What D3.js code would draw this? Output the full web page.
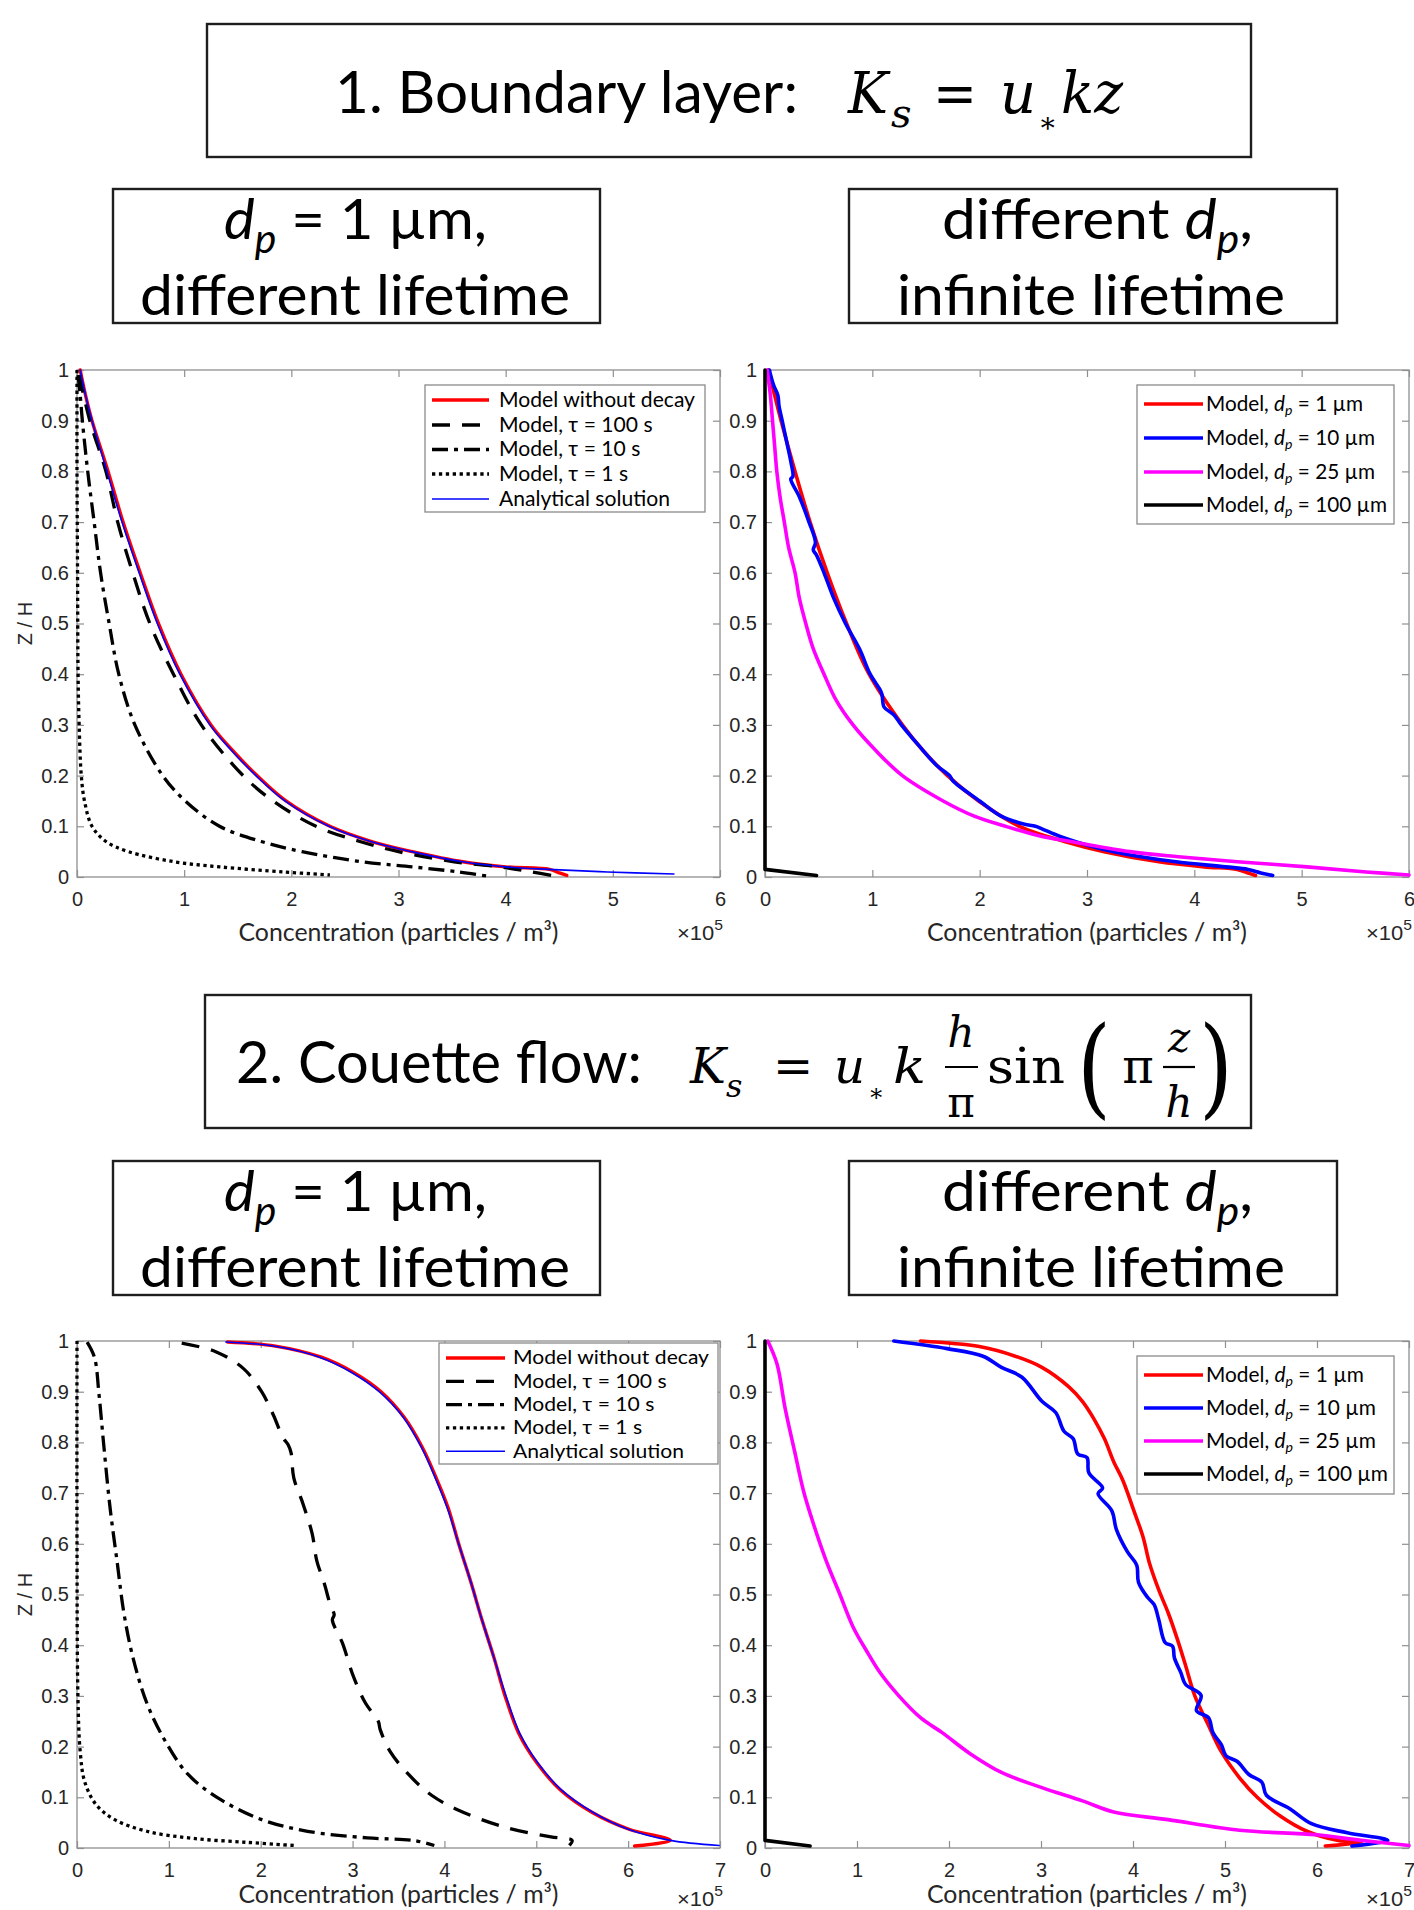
<!DOCTYPE html>
<html><head><meta charset="utf-8">
<script src="https://cdn.jsdelivr.net/npm/d3@7"></script>
<style>body{margin:0;background:#fff}svg{display:block}</style>
</head><body>
<svg id="c" width="1414" height="1910"></svg>
<script>
// ---------- tick labels ----------
const yTicks = [0, 0.1, 0.2, 0.3, 0.4, 0.5, 0.6, 0.7, 0.8, 0.9, 1];
const xTicksBL = [0, 1, 2, 3, 4, 5, 6];
const xTicksCF = [0, 1, 2, 3, 4, 5, 6, 7];
const legendTau = ["Model without decay", "Model, τ = 100 s", "Model, τ = 10 s", "Model, τ = 1 s", "Analytical solution"];
const legendDp = ["1", "10", "25", "100"];

// ---------- 1. Boundary layer, dp = 1 µm, different lifetime (x in 1e5 particles/m3, z = Z/H) ----------
const blNoDecayZ = [1.0, 0.95, 0.9, 0.8, 0.7, 0.6, 0.5, 0.4, 0.3, 0.25, 0.2, 0.15, 0.1, 0.07, 0.05, 0.03, 0.02, 0.015, 0.008, 0.003];
const blNoDecayC = [0.03, 0.08, 0.14, 0.29, 0.43, 0.59, 0.76, 0.97, 1.25, 1.45, 1.68, 1.95, 2.36, 2.75, 3.13, 3.6, 4.0, 4.41, 4.5, 4.57];
const blTau100Z = [0.99, 0.9, 0.8, 0.7, 0.6, 0.5, 0.4, 0.3, 0.2, 0.15, 0.1, 0.07, 0.05, 0.03, 0.02, 0.01, 0.002];
const blTau100C = [0.02, 0.12, 0.27, 0.38, 0.52, 0.68, 0.90, 1.16, 1.55, 1.83, 2.23, 2.64, 3.0, 3.52, 3.95, 4.24, 4.46];
const blTau10Z = [0.99, 0.95, 0.9, 0.8, 0.7, 0.6, 0.5, 0.4, 0.3, 0.2, 0.15, 0.1, 0.07, 0.05, 0.03, 0.02, 0.01, 0.002];
const blTau10C = [0.01, 0.03, 0.05, 0.10, 0.16, 0.22, 0.30, 0.39, 0.54, 0.80, 1.01, 1.33, 1.72, 2.10, 2.66, 3.13, 3.56, 3.82];
const blTau1Z = [1.0, 0.8, 0.6, 0.4, 0.3, 0.2, 0.15, 0.1, 0.07, 0.05, 0.03, 0.02, 0.01, 0.004];
const blTau1C = [0.0, 0.0, 0.005, 0.01, 0.02, 0.04, 0.07, 0.14, 0.27, 0.48, 0.91, 1.33, 1.93, 2.36];
const blAnalyticZ = [1.0, 0.95, 0.9, 0.8, 0.7, 0.6, 0.5, 0.4, 0.3, 0.25, 0.2, 0.15, 0.1, 0.07, 0.05, 0.03, 0.02, 0.015, 0.01, 0.006];
const blAnalyticC = [0.03, 0.08, 0.14, 0.28, 0.42, 0.58, 0.75, 0.96, 1.24, 1.44, 1.67, 1.94, 2.35, 2.74, 3.12, 3.6, 4.0, 4.4, 4.95, 5.57];

// ---------- 1. Boundary layer, different dp, infinite lifetime ----------
const blDp1Z = [1.0, 0.95, 0.9, 0.8, 0.7, 0.6, 0.5, 0.4, 0.3, 0.25, 0.2, 0.15, 0.1, 0.07, 0.05, 0.03, 0.02, 0.015, 0.008, 0.003];
const blDp1C = [0.03, 0.09, 0.15, 0.28, 0.42, 0.58, 0.76, 0.97, 1.28, 1.47, 1.70, 1.99, 2.37, 2.79, 3.16, 3.67, 4.09, 4.40, 4.50, 4.57];
const blDp10Z = [1.0, 0.97, 0.95, 0.93, 0.9, 0.86, 0.82, 0.79, 0.785, 0.75, 0.7, 0.66, 0.645, 0.635, 0.6, 0.55, 0.5, 0.45, 0.4, 0.37, 0.36, 0.335, 0.32, 0.3, 0.26, 0.22, 0.2, 0.19, 0.15, 0.12, 0.105, 0.1, 0.095, 0.08, 0.06, 0.05, 0.04, 0.03, 0.02, 0.015, 0.008, 0.003];
const blDp10C = [0.04, 0.08, 0.12, 0.13, 0.16, 0.20, 0.24, 0.26, 0.24, 0.32, 0.41, 0.47, 0.45, 0.48, 0.55, 0.64, 0.75, 0.88, 0.98, 1.07, 1.09, 1.11, 1.20, 1.27, 1.43, 1.60, 1.72, 1.75, 2.0, 2.2, 2.40, 2.52, 2.58, 2.75, 3.05, 3.25, 3.5, 3.83, 4.29, 4.50, 4.62, 4.73];
const blDp25Z = [1.0, 0.95, 0.9, 0.85, 0.8, 0.75, 0.7, 0.65, 0.6, 0.55, 0.5, 0.45, 0.4, 0.35, 0.3, 0.25, 0.2, 0.15, 0.12, 0.1, 0.08, 0.07, 0.05, 0.04, 0.03, 0.02, 0.01, 0.004];
const blDp25C = [0.02, 0.05, 0.07, 0.09, 0.11, 0.14, 0.18, 0.22, 0.28, 0.32, 0.38, 0.45, 0.55, 0.66, 0.82, 1.03, 1.28, 1.66, 1.95, 2.24, 2.58, 2.85, 3.4, 3.85, 4.4, 5.05, 5.6, 6.0];
const blDp100Z = [1.0, 0.015, 0.003];
const blDp100C = [0.0, 0.0, 0.48];

// ---------- 2. Couette flow, dp = 1 µm, different lifetime ----------
const cfNoDecayZ = [0.998, 0.99, 0.968, 0.938, 0.90, 0.85, 0.79, 0.73, 0.671, 0.597, 0.523, 0.449, 0.375, 0.30, 0.226, 0.167, 0.115, 0.07, 0.037, 0.015, 0.004];
const cfNoDecayC = [1.64, 2.16, 2.66, 3.01, 3.31, 3.56, 3.76, 3.91, 4.04, 4.16, 4.29, 4.41, 4.54, 4.66, 4.81, 5.01, 5.26, 5.61, 6.01, 6.46, 6.07];
const cfTau100Z = [0.996, 0.979, 0.946, 0.90, 0.853, 0.81, 0.795, 0.78, 0.73, 0.679, 0.62, 0.567, 0.523, 0.478, 0.46, 0.45, 0.404, 0.338, 0.286, 0.25, 0.234, 0.19, 0.145, 0.104, 0.074, 0.041, 0.022, 0.015, 0.005];
const cfTau100C = [1.14, 1.51, 1.81, 2.01, 2.14, 2.24, 2.30, 2.33, 2.36, 2.46, 2.56, 2.61, 2.69, 2.76, 2.80, 2.78, 2.89, 3.01, 3.14, 3.28, 3.30, 3.41, 3.61, 3.86, 4.16, 4.66, 5.16, 5.39, 5.36];
const cfTau10Z = [0.998, 0.968, 0.894, 0.797, 0.671, 0.56, 0.464, 0.375, 0.286, 0.211, 0.145, 0.096, 0.056, 0.033, 0.02, 0.015, 0.005];
const cfTau10C = [0.11, 0.19, 0.24, 0.29, 0.36, 0.44, 0.51, 0.61, 0.76, 0.96, 1.21, 1.56, 2.01, 2.51, 3.16, 3.66, 3.89];
const cfTau1Z = [1.0, 0.6, 0.3, 0.19, 0.13, 0.085, 0.056, 0.033, 0.019, 0.011, 0.005];
const cfTau1C = [0.0, 0.0, 0.01, 0.035, 0.085, 0.21, 0.41, 0.76, 1.26, 1.86, 2.36];
const cfAnalyticZ = [0.998, 0.99, 0.968, 0.938, 0.90, 0.85, 0.79, 0.73, 0.671, 0.597, 0.523, 0.449, 0.375, 0.30, 0.226, 0.167, 0.115, 0.07, 0.037, 0.015, 0.005];
const cfAnalyticC = [1.62, 2.14, 2.64, 2.99, 3.29, 3.55, 3.75, 3.90, 4.03, 4.16, 4.29, 4.41, 4.54, 4.67, 4.82, 5.02, 5.27, 5.62, 6.0, 6.46, 6.99];

// ---------- 2. Couette flow, different dp, infinite lifetime ----------
const cfDp1Z = [1.0, 0.989, 0.97, 0.948, 0.91, 0.881, 0.848, 0.807, 0.762, 0.725, 0.665, 0.613, 0.561, 0.509, 0.465, 0.413, 0.361, 0.301, 0.242, 0.19, 0.138, 0.10, 0.063, 0.033, 0.015, 0.011, 0.004];
const cfDp1C = [1.69, 2.33, 2.72, 3.01, 3.30, 3.45, 3.57, 3.69, 3.79, 3.89, 4.01, 4.11, 4.18, 4.28, 4.38, 4.48, 4.57, 4.67, 4.82, 4.96, 5.16, 5.35, 5.60, 5.89, 6.23, 6.48, 6.09];
const cfDp10Z = [1.0, 0.985, 0.97, 0.948, 0.929, 0.881, 0.859, 0.822, 0.807, 0.777, 0.77, 0.74, 0.71, 0.699, 0.665, 0.628, 0.584, 0.558, 0.524, 0.494, 0.48, 0.45, 0.405, 0.398, 0.375, 0.346, 0.323, 0.301, 0.271, 0.257, 0.227, 0.204, 0.182, 0.171, 0.145, 0.13, 0.104, 0.078, 0.048, 0.03, 0.015, 0.004];
const cfDp10C = [1.40, 1.98, 2.37, 2.57, 2.79, 3.01, 3.16, 3.25, 3.35, 3.40, 3.50, 3.52, 3.67, 3.62, 3.77, 3.82, 3.94, 4.04, 4.06, 4.16, 4.23, 4.28, 4.35, 4.43, 4.45, 4.52, 4.57, 4.74, 4.69, 4.82, 4.87, 4.96, 5.01, 5.13, 5.26, 5.40, 5.45, 5.70, 5.94, 6.33, 6.77, 6.38];
const cfDp25Z = [1.0, 0.955, 0.866, 0.784, 0.703, 0.643, 0.569, 0.502, 0.435, 0.39, 0.346, 0.301, 0.257, 0.227, 0.186, 0.149, 0.119, 0.093, 0.071, 0.056, 0.035, 0.026, 0.015, 0.005];
const cfDp25C = [0.03, 0.13, 0.22, 0.32, 0.42, 0.52, 0.66, 0.81, 0.96, 1.10, 1.25, 1.45, 1.69, 1.93, 2.23, 2.57, 3.01, 3.45, 3.79, 4.38, 5.16, 5.99, 6.48, 7.0];
const cfDp100Z = [1.0, 0.015, 0.004];
const cfDp100C = [0.0, 0.0, 0.49];

// ================= drawing =================
const svg = d3.select('#c');
const SANS = "Lato, 'Open Sans', sans-serif";
const TICKF = "'Liberation Sans', Arial, sans-serif";
const SERIF = "'DejaVu Serif', 'Liberation Serif', serif";
const AX = '#8f8f8f';

function squeeze(sel, target) {
  sel.attr('textLength', target).attr('lengthAdjust', 'spacingAndGlyphs');
}

function box(x, y, w, h) {
  svg.append('rect').attr('x', x).attr('y', y).attr('width', w).attr('height', h)
    .attr('fill', '#fff').attr('stroke', '#1e1e1e').attr('stroke-width', 2.4);
}
function plainText(x, y, str, size, len, opts = {}) {
  const t = svg.append('text').attr('x', x).attr('y', y).attr('fill', '#000')
    .style('font-family', opts.family || SANS).style('font-size', size + 'px')
    .style('font-style', opts.italic ? 'italic' : 'normal')
    .attr('text-anchor', opts.anchor || 'start').text(str);
  if (len) squeeze(t, len);
  return t;
}

// Title 1
box(207, 24, 1044, 133);
plainText(335, 113, '1. Boundary layer:', 58, 463);
plainText(848, 113, 'K', 58, 40, {family: SERIF, italic: true});
plainText(891, 127, 's', 40, null, {family: SERIF, italic: true});
plainText(955, 113, '=', 58, 44, {family: SERIF, anchor: 'middle'});
plainText(1000, 113, 'u', 58, 36, {family: SERIF, italic: true});
plainText(1038, 132, '∗', 28, null, {family: SERIF});
plainText(1061, 113, 'kz', 58, 62, {family: SERIF, italic: true});

// sub-boxes
function subBoxes(top) {
  box(113, top, 487, 134);
  box(849, top, 488, 134);
  const b1 = top + 50, b2 = top + 126;
  const t1 = svg.append('text').attr('x', 224).attr('y', b1).style('font-family', SANS).style('font-size', '57px');
  t1.append('tspan').style('font-style', 'italic').text('d');
  t1.append('tspan').style('font-style', 'italic').style('font-size', '40px').attr('dy', 14).text('p');
  t1.append('tspan').attr('dy', -14).text(' = 1 µm,');
  squeeze(t1, 263);
  plainText(140, b2, 'different lifetime', 57, 430);
  const t2 = svg.append('text').attr('x', 942).attr('y', b1).style('font-family', SANS).style('font-size', '57px');
  t2.append('tspan').text('different ');
  t2.append('tspan').style('font-style', 'italic').text('d');
  t2.append('tspan').style('font-style', 'italic').style('font-size', '40px').attr('dy', 14).text('p');
  t2.append('tspan').attr('dy', -14).text(',');
  squeeze(t2, 311);
  plainText(897, b2, 'infinite lifetime', 57, 388);
}
subBoxes(189);

// Title 2
box(205, 995, 1046, 133);
plainText(236, 1083, '2. Couette flow:', 58, 406);
plainText(690, 1083, 'K', 48, null, {family: SERIF, italic: true});
plainText(726, 1097, 's', 32, null, {family: SERIF, italic: true});
plainText(793, 1083, '=', 48, null, {family: SERIF, anchor: 'middle'});
plainText(834, 1083, 'u', 48, 31, {family: SERIF, italic: true});
plainText(868, 1101, '∗', 24, null, {family: SERIF});
plainText(893, 1083, 'k', 48, 33, {family: SERIF, italic: true});
plainText(961, 1047, 'h', 42, null, {family: SERIF, italic: true, anchor: 'middle'});
svg.append('line').attr('x1', 945).attr('x2', 978).attr('y1', 1067).attr('y2', 1067).attr('stroke', '#000').attr('stroke-width', 2.2);
plainText(961, 1117, 'π', 42, null, {family: SERIF, anchor: 'middle'});
plainText(987, 1083, 'sin', 48, 78, {family: SERIF});
plainText(1077, 1104, '(', 108, 34, {family: SERIF});
plainText(1138, 1083, 'π', 48, null, {family: SERIF, anchor: 'middle'});
plainText(1179, 1052, 'z', 42, null, {family: SERIF, italic: true, anchor: 'middle'});
svg.append('line').attr('x1', 1163).attr('x2', 1195).attr('y1', 1067).attr('y2', 1067).attr('stroke', '#000').attr('stroke-width', 2.2);
plainText(1179, 1117, 'h', 42, null, {family: SERIF, italic: true, anchor: 'middle'});
plainText(1199, 1104, ')', 108, 34, {family: SERIF});
subBoxes(1161);

// ---- panels ----
function panel(o) {
  const x = d3.scaleLinear().domain([0, o.xmax]).range([o.l, o.r]);
  const y = d3.scaleLinear().domain([0, 1]).range([o.b, o.t]);
  const g = svg.append('g');
  g.append('rect').attr('x', o.l).attr('y', o.t).attr('width', o.r - o.l).attr('height', o.b - o.t).attr('fill', '#fff');
  const ax = sel => {
    sel.select('.domain').remove();
    sel.selectAll('line').attr('stroke', AX).attr('stroke-width', 1.2);
    sel.selectAll('text').attr('fill', '#262626').style('font-family', TICKF).style('font-size', '20px');
  };
  g.append('g').attr('transform', `translate(0,${o.b})`)
    .call(d3.axisBottom(x).tickValues(o.xt).tickSize(-7).tickPadding(15).tickFormat(d3.format('d'))).call(ax);
  g.append('g').attr('transform', `translate(0,${o.t})`)
    .call(d3.axisTop(x).tickValues(o.xt).tickSize(-7).tickFormat('')).call(ax);
  g.append('g').attr('transform', `translate(${o.l},0)`)
    .call(d3.axisLeft(y).tickValues(yTicks).tickSize(-7).tickPadding(8).tickFormat(d => String(+d.toFixed(1)))).call(ax);
  g.append('g').attr('transform', `translate(${o.r},0)`)
    .call(d3.axisRight(y).tickValues(yTicks).tickSize(-7).tickFormat('')).call(ax);
  g.append('rect').attr('x', o.l).attr('y', o.t).attr('width', o.r - o.l).attr('height', o.b - o.t)
    .attr('fill', 'none').attr('stroke', AX).attr('stroke-width', 1.3);

  const xl = g.append('text').attr('x', (o.l + o.r) / 2).attr('y', o.b + o.labDy).attr('text-anchor', 'middle')
    .attr('fill', '#262626').style('font-family', SANS).style('font-size', '25px').text('Concentration (particles / m³)');
  squeeze(xl, 320);
  const ex = g.append('text').attr('x', o.r + 3).attr('y', o.b + o.expDy).attr('text-anchor', 'end')
    .attr('fill', '#262626').style('font-family', TICKF).style('font-size', '21px');
  ex.append('tspan').text('×10');
  ex.append('tspan').attr('dy', -10).style('font-size', '15px').text('5');
  squeeze(ex, 46);
  if (o.ylab) {
    g.append('text').attr('transform', `translate(${o.l - 45},${(o.t + o.b) / 2}) rotate(-90)`).attr('text-anchor', 'middle')
      .attr('fill', '#262626').style('font-family', TICKF).style('font-size', '20px').text('Z / H');
  }

  o.series.forEach(s => {
    const pts = s.c.map((c, i) => [c, s.z[i]]);
    const line = d3.line().x(d => x(d[0])).y(d => y(d[1]))
      .curve(s.straight ? d3.curveLinear : d3.curveCatmullRom.alpha(0.5));
    g.append('path').attr('d', line(pts)).attr('fill', 'none').attr('stroke', s.color)
      .attr('stroke-width', s.w).attr('stroke-dasharray', s.dash || null)
      .attr('stroke-linejoin', 'round').attr('stroke-linecap', s.dash ? 'butt' : 'round');
  });

  const L = o.legend;
  g.append('rect').attr('x', L.x0).attr('y', L.y0).attr('width', L.x1 - L.x0).attr('height', L.y1 - L.y0)
    .attr('fill', '#fff').attr('stroke', '#8a8a8a').attr('stroke-width', 1.3);
  const step = L.ys[1] - L.ys[0];
  const fs = Math.min(22, step / 1.22);
  const texts = [];
  o.series.forEach((s, i) => {
    const ly = L.ys[i];
    g.append('line').attr('x1', L.lx0).attr('x2', L.lx1).attr('y1', ly).attr('y2', ly)
      .attr('stroke', s.color).attr('stroke-width', s.w).attr('stroke-dasharray', s.dash || null);
    const t = g.append('text').attr('x', L.tx).attr('y', ly + fs * 0.34).attr('fill', '#000')
      .style('font-family', SANS).style('font-size', fs + 'px');
    if (s.dp) {
      t.append('tspan').text('Model, ');
      t.append('tspan').style('font-style', 'italic').text('d');
      t.append('tspan').style('font-style', 'italic').style('font-size', '0.68em').attr('dy', '0.22em').text('p');
      t.append('tspan').attr('dy', '-0.15em').text(' = ' + s.label + ' µm');
    } else {
      t.text(s.label);
    }
    texts.push(t);
  });
  const natural = texts.map(t => t.node().getComputedTextLength());
  const k = L.refW / natural[L.ref];
  if (o.series[0].dp) {
    texts.forEach(t => t.style('font-size', (fs * k).toFixed(2) + 'px'));
  } else {
    texts.forEach((t, i) => squeeze(t, natural[i] * k));
  }
}

const RED = '#ff0000', BLUE = '#0000ff', MAG = '#ff00ff', BLK = '#000000';
const DASH = '18,12', DASHDOT = '16,6,4,6', DOT = '3.3,3.6';

panel({
  l: 77, r: 720, t: 370, b: 877, xmax: 6, xt: xTicksBL, ylab: true, labDy: 64, expDy: 63,
  series: [
    {c: blNoDecayC, z: blNoDecayZ, color: RED, w: 3.4, label: legendTau[0]},
    {c: blTau100C, z: blTau100Z, color: BLK, w: 3.3, dash: DASH, label: legendTau[1]},
    {c: blTau10C, z: blTau10Z, color: BLK, w: 3.3, dash: DASHDOT, label: legendTau[2]},
    {c: blTau1C, z: blTau1Z, color: BLK, w: 3.3, dash: DOT, label: legendTau[3]},
    {c: blAnalyticC, z: blAnalyticZ, color: BLUE, w: 1.6, label: legendTau[4]}
  ],
  legend: {x0: 425, x1: 705, y0: 385, y1: 512, ys: [400, 425, 449.5, 474, 499], lx0: 432, lx1: 489, tx: 499, ref: 0, refW: 196}
});

panel({
  l: 765, r: 1409, t: 370, b: 877, xmax: 6, xt: xTicksBL, ylab: false, labDy: 64, expDy: 63,
  series: [
    {c: blDp1C, z: blDp1Z, color: RED, w: 3.6, dp: true, label: legendDp[0]},
    {c: blDp10C, z: blDp10Z, color: BLUE, w: 3.6, dp: true, label: legendDp[1]},
    {c: blDp25C, z: blDp25Z, color: MAG, w: 3.6, dp: true, label: legendDp[2]},
    {c: blDp100C, z: blDp100Z, color: BLK, w: 3.6, dp: true, straight: true, label: legendDp[3]}
  ],
  legend: {x0: 1137, x1: 1394, y0: 385, y1: 524, ys: [404, 438, 472, 505], lx0: 1144, lx1: 1203, tx: 1206, ref: 3, refW: 181}
});

panel({
  l: 77, r: 720, t: 1341, b: 1848, xmax: 7, xt: xTicksCF, ylab: true, labDy: 55, expDy: 58,
  series: [
    {c: cfNoDecayC, z: cfNoDecayZ, color: RED, w: 3.4, label: legendTau[0]},
    {c: cfTau100C, z: cfTau100Z, color: BLK, w: 3.3, dash: DASH, label: legendTau[1]},
    {c: cfTau10C, z: cfTau10Z, color: BLK, w: 3.3, dash: DASHDOT, label: legendTau[2]},
    {c: cfTau1C, z: cfTau1Z, color: BLK, w: 3.3, dash: DOT, label: legendTau[3]},
    {c: cfAnalyticC, z: cfAnalyticZ, color: BLUE, w: 1.6, label: legendTau[4]}
  ],
  legend: {x0: 439, x1: 718, y0: 1343, y1: 1464, ys: [1358, 1381.3, 1404.6, 1427.9, 1451.2], lx0: 446, lx1: 505, tx: 513, ref: 0, refW: 196}
});

panel({
  l: 765, r: 1409, t: 1341, b: 1848, xmax: 7, xt: xTicksCF, ylab: false, labDy: 55, expDy: 58,
  series: [
    {c: cfDp1C, z: cfDp1Z, color: RED, w: 3.6, dp: true, label: legendDp[0]},
    {c: cfDp10C, z: cfDp10Z, color: BLUE, w: 3.6, dp: true, label: legendDp[1]},
    {c: cfDp25C, z: cfDp25Z, color: MAG, w: 3.6, dp: true, label: legendDp[2]},
    {c: cfDp100C, z: cfDp100Z, color: BLK, w: 3.6, dp: true, straight: true, label: legendDp[3]}
  ],
  legend: {x0: 1137, x1: 1394, y0: 1356, y1: 1494, ys: [1375, 1408, 1441, 1474], lx0: 1144, lx1: 1203, tx: 1206, ref: 3, refW: 182}
});
</script>
</body></html>
